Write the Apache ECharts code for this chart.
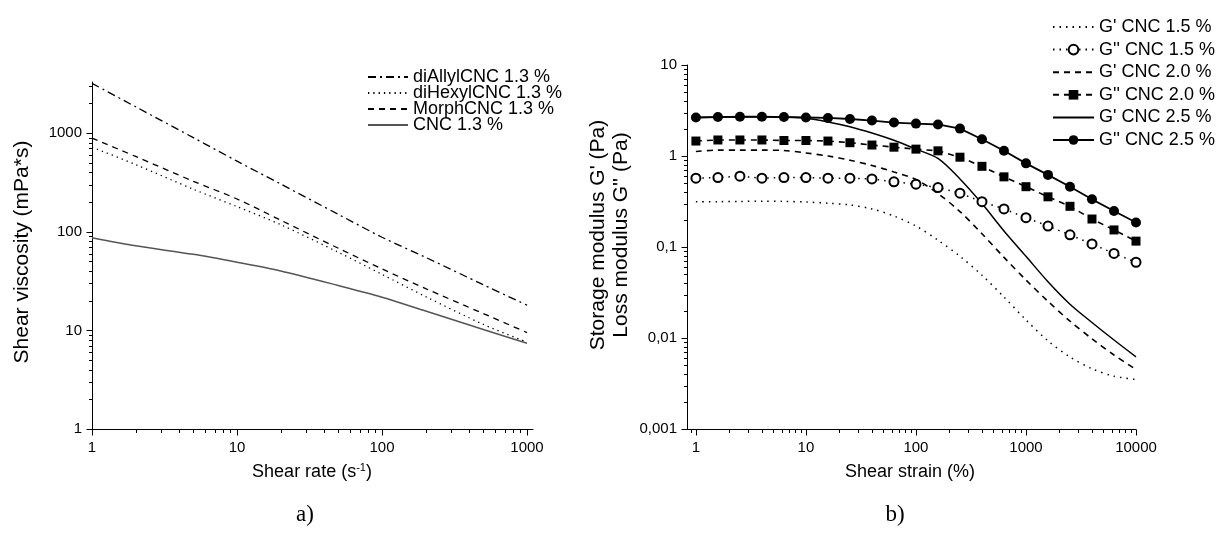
<!DOCTYPE html>
<html><head><meta charset="utf-8">
<script src="https://cdn.jsdelivr.net/npm/echarts@6/dist/echarts.min.js"></script>
<style>html,body{margin:0;padding:0;background:#fff}#c{width:1221px;height:545px}</style>
</head><body><div id="c"></div>
<script>
// ---- Chart a) : shear viscosity vs shear rate ----
const shearRate = [1, 2, 5, 10, 20, 50, 100, 200, 500, 1000];
const diAllylCNC = [3200, 1850, 900, 520, 305, 150, 88, 55, 29, 18];
const diHexylCNC = [720, 480, 270, 180, 118, 62, 37, 22, 11.5, 7.6];
const morphCNC = [890, 580, 325, 215, 131, 68, 42, 26.5, 14.8, 9.5];
const cnc13 = [87, 72, 59, 49, 40, 28.5, 21.7, 15.7, 10.2, 7.4];
const leftNames = ['diAllylCNC 1.3 %', 'diHexylCNC 1.3 %', 'MorphCNC 1.3 %', 'CNC 1.3 %'];

// ---- Chart b) : moduli vs shear strain ----
const shearStrain = [1, 1.585, 2.512, 3.981, 6.31, 10, 15.85, 25.12, 39.81, 63.1, 100, 158.5, 251.2, 398.1, 631, 1000, 1585, 2512, 3981, 6310, 10000];
const gp15  = [0.315, 0.315, 0.317, 0.318, 0.317, 0.312, 0.303, 0.29, 0.262, 0.219, 0.17, 0.119, 0.079, 0.049, 0.0282, 0.0158, 0.0093, 0.0062, 0.0046, 0.0038, 0.0035];
const gpp15 = [0.57, 0.58, 0.60, 0.57, 0.58, 0.58, 0.57, 0.57, 0.56, 0.52, 0.49, 0.45, 0.39, 0.315, 0.262, 0.21, 0.17, 0.136, 0.108, 0.085, 0.068];
const gp20  = [1.12, 1.16, 1.16, 1.16, 1.15, 1.08, 1.0, 0.90, 0.787, 0.667, 0.552, 0.387, 0.245, 0.14, 0.077, 0.0434, 0.0253, 0.0153, 0.0098, 0.0065, 0.0045];
const gpp20 = [1.46, 1.50, 1.50, 1.50, 1.48, 1.48, 1.46, 1.40, 1.32, 1.25, 1.19, 1.14, 0.97, 0.77, 0.59, 0.46, 0.356, 0.28, 0.203, 0.154, 0.116];
const gp25  = [2.65, 2.68, 2.70, 2.70, 2.68, 2.60, 2.37, 2.10, 1.79, 1.49, 1.19, 0.94, 0.56, 0.30, 0.15, 0.079, 0.0415, 0.0235, 0.0148, 0.0095, 0.0062];
const gpp25 = [2.65, 2.68, 2.70, 2.70, 2.68, 2.65, 2.62, 2.55, 2.45, 2.33, 2.27, 2.22, 2.0, 1.53, 1.14, 0.83, 0.62, 0.46, 0.334, 0.249, 0.186];
const rightNames = ["G' CNC 1.5 %", "G'' CNC 1.5 %", "G' CNC 2.0 %", "G'' CNC 2.0 %", "G' CNC 2.5 %", "G'' CNC 2.5 %"];

// ---- tick labels ----
const leftXTickVals = [1, 10, 100, 1000];
const leftXTickLabels = ['1', '10', '100', '1000'];
const leftYTickVals = [1, 10, 100, 1000];
const leftYTickLabels = ['1', '10', '100', '1000'];
const rightXTickVals = [1, 10, 100, 1000, 10000];
const rightXTickLabels = ['1', '10', '100', '1000', '10000'];
const rightYTickVals = [0.001, 0.01, 0.1, 1, 10];
const rightYTickLabels = ['0,001', '0,01', '0,1', '1', '10'];

const FONT = 'Liberation Sans, Arial, sans-serif';
const ext = { lx: [1, 1100], ly: [1, 3300], rx: [0.83, 10000], ry: [0.001, 10] };

function labelFmt(vals, labels) {
  return function (v) {
    for (let i = 0; i < vals.length; i++) {
      if (Math.abs(Math.log10(v) - Math.log10(vals[i])) < 1e-6) return labels[i];
    }
    return '';
  };
}
function logTicks(min, max) {
  const out = [];
  for (let e = Math.floor(Math.log10(min)); e <= Math.ceil(Math.log10(max)); e++) {
    for (let m = 1; m <= 9; m++) {
      const v = m * Math.pow(10, e);
      if (v >= min * 0.9999 && v <= max * 1.0001) out.push([v, m === 1 ? 1 : 0]);
    }
  }
  return out;
}
function tickData(xe, ye) {
  const d = [];
  logTicks(xe[0], xe[1]).forEach(t => d.push([t[0], ye[0], 0, t[1]]));
  logTicks(ye[0], ye[1]).forEach(t => d.push([xe[0], t[0], 1, t[1]]));
  return d;
}
function tickRender(params, api) {
  const p = api.coord([api.value(0), api.value(1)]);
  const L = api.value(3) ? 6 : 3.5;
  const x = Math.round(p[0]) + 0.5, y = Math.round(p[1]) + 0.5;
  const shape = api.value(2) === 0 ? { x1: x, y1: y, x2: x, y2: y + L } : { x1: x - L, y1: y, x2: x, y2: y };
  return { type: 'line', shape: shape, style: { stroke: '#000', lineWidth: 1 } };
}
function pairs(xs, ys) { return xs.map((x, i) => [x, ys[i]]); }

function axisCommon(idx, e, fmt, isX) {
  return {
    type: 'log', gridIndex: idx, min: e[0], max: e[1], logBase: 10,
    axisLine: { show: true, lineStyle: { color: '#000', width: 1 } },
    axisTick: { show: false }, splitLine: { show: false }, minorTick: { show: false },
    axisLabel: { formatter: fmt, color: '#000', fontSize: 15, fontFamily: FONT, margin: isX ? 11 : 10, showMinLabel: true, showMaxLabel: true }
  };
}

const lineBase = { type: 'line', symbol: 'none', animation: false, z: 3 };
const series = [
  Object.assign({}, lineBase, { name: leftNames[0], xAxisIndex: 0, yAxisIndex: 0, smooth: 0.3, data: pairs(shearRate, diAllylCNC), lineStyle: { color: '#000', width: 1.3, type: [8, 4, 2, 4] }, itemStyle: { color: '#000' } }),
  Object.assign({}, lineBase, { name: leftNames[1], xAxisIndex: 0, yAxisIndex: 0, smooth: 0.3, data: pairs(shearRate, diHexylCNC), lineStyle: { color: '#000', width: 1.3, type: [1.3, 4] }, itemStyle: { color: '#000' } }),
  Object.assign({}, lineBase, { name: leftNames[2], xAxisIndex: 0, yAxisIndex: 0, smooth: 0.3, data: pairs(shearRate, morphCNC), lineStyle: { color: '#000', width: 1.3, type: [6, 5] }, itemStyle: { color: '#000' } }),
  Object.assign({}, lineBase, { name: leftNames[3], xAxisIndex: 0, yAxisIndex: 0, smooth: 0.3, data: pairs(shearRate, cnc13), lineStyle: { color: '#555', width: 1.5, type: 'solid' }, itemStyle: { color: '#555' } }),

  Object.assign({}, lineBase, { name: rightNames[0], xAxisIndex: 1, yAxisIndex: 1, smooth: 0.3, data: pairs(shearStrain, gp15), lineStyle: { color: '#000', width: 1.5, type: [1.5, 5] }, itemStyle: { color: '#000' } }),
  Object.assign({}, lineBase, { name: rightNames[1], xAxisIndex: 1, yAxisIndex: 1, symbol: 'emptyCircle', symbolSize: 9, showSymbol: true, data: pairs(shearStrain, gpp15), lineStyle: { color: '#000', width: 1.5, type: [1.5, 5] }, itemStyle: { color: '#000', borderColor: '#000', borderWidth: 1 } }),
  Object.assign({}, lineBase, { name: rightNames[2], xAxisIndex: 1, yAxisIndex: 1, smooth: 0.3, data: pairs(shearStrain, gp20), lineStyle: { color: '#000', width: 1.6, type: [6, 5] }, itemStyle: { color: '#000' } }),
  Object.assign({}, lineBase, { name: rightNames[3], xAxisIndex: 1, yAxisIndex: 1, symbol: 'rect', symbolSize: 9, showSymbol: true, data: pairs(shearStrain, gpp20), lineStyle: { color: '#000', width: 1.6, type: [6, 5] }, itemStyle: { color: '#000' } }),
  Object.assign({}, lineBase, { name: rightNames[4], xAxisIndex: 1, yAxisIndex: 1, smooth: 0.3, data: pairs(shearStrain, gp25), lineStyle: { color: '#000', width: 1.5, type: 'solid' }, itemStyle: { color: '#000' } }),
  Object.assign({}, lineBase, { name: rightNames[5], xAxisIndex: 1, yAxisIndex: 1, symbol: 'circle', symbolSize: 10, showSymbol: true, data: pairs(shearStrain, gpp25), lineStyle: { color: '#000', width: 1.8, type: 'solid' }, itemStyle: { color: '#000' } }),

  { type: 'custom', xAxisIndex: 0, yAxisIndex: 0, silent: true, clip: false, z: 5, animation: false, renderItem: tickRender, dimensions: ['x', 'y', 't', 'm'], encode: { x: 0, y: 1 }, data: tickData(ext.lx, ext.ly) },
  { type: 'custom', xAxisIndex: 1, yAxisIndex: 1, silent: true, clip: false, z: 5, animation: false, renderItem: tickRender, dimensions: ['x', 'y', 't', 'm'], encode: { x: 0, y: 1 }, data: tickData(ext.rx, ext.ry) }
];

// legend entries: series drawn without markers get an invisible legend symbol
const noMarker = { itemStyle: { opacity: 0 } };
const legendText = { fontSize: 18, color: '#000', fontFamily: FONT };
const option = {
  animation: false,
  backgroundColor: '#fff',
  grid: [
    { left: 92, top: 82, width: 441, height: 347, containLabel: false },
    { left: 687, top: 65, width: 449, height: 364, containLabel: false }
  ],
  xAxis: [
    axisCommon(0, ext.lx, labelFmt(leftXTickVals, leftXTickLabels), true),
    axisCommon(1, ext.rx, labelFmt(rightXTickVals, rightXTickLabels), true)
  ],
  yAxis: [
    axisCommon(0, ext.ly, labelFmt(leftYTickVals, leftYTickLabels), false),
    axisCommon(1, ext.ry, labelFmt(rightYTickVals, rightYTickLabels), false)
  ],
  legend: [
    { data: leftNames.map(n => Object.assign({ name: n }, noMarker)), orient: 'vertical', left: 367, top: 68, padding: 0, itemWidth: 40, itemHeight: 10, itemGap: -2, textStyle: legendText, selectedMode: false },
    { data: rightNames.map((n, i) => (i % 2 === 0 ? Object.assign({ name: n }, noMarker) : { name: n })), orient: 'vertical', left: 1052, top: 18, padding: 0, itemWidth: 41, itemHeight: 12, itemGap: 4.6, textStyle: legendText, selectedMode: false }
  ],
  graphic: [
    { type: 'text', x: 22, y: 252, rotation: Math.PI / 2, style: { text: 'Shear viscosity (mPa*s)', fontSize: 21, fontFamily: FONT, fill: '#000', align: 'center', verticalAlign: 'middle' } },
    { type: 'text', x: 610, y: 235, rotation: Math.PI / 2, style: { text: "Storage modulus G' (Pa)\nLoss modulus G'' (Pa)", fontSize: 21, lineHeight: 23, fontFamily: FONT, fill: '#000', align: 'center', verticalAlign: 'middle' } },
    { type: 'text', x: 312, y: 472, style: { text: 'Shear rate (s{sup|-1})', fontSize: 18, fontFamily: FONT, fill: '#000', align: 'center', verticalAlign: 'middle', rich: { sup: { fontSize: 11, fontFamily: FONT, fill: '#000', verticalAlign: 'top', padding: [0, 0, 9, 0] } } } },
    { type: 'text', x: 910, y: 472, style: { text: 'Shear strain (%)', fontSize: 18, fontFamily: FONT, fill: '#000', align: 'center', verticalAlign: 'middle' } },
    { type: 'text', x: 305, y: 515, style: { text: 'a)', fontSize: 23, fontFamily: 'Liberation Serif, serif', fill: '#000', align: 'center', verticalAlign: 'middle' } },
    { type: 'text', x: 895, y: 515, style: { text: 'b)', fontSize: 23, fontFamily: 'Liberation Serif, serif', fill: '#000', align: 'center', verticalAlign: 'middle' } }
  ],
  series: series
};
const chart = echarts.init(document.getElementById('c'), null, { renderer: 'canvas' });
chart.setOption(option);
</script></body></html>
